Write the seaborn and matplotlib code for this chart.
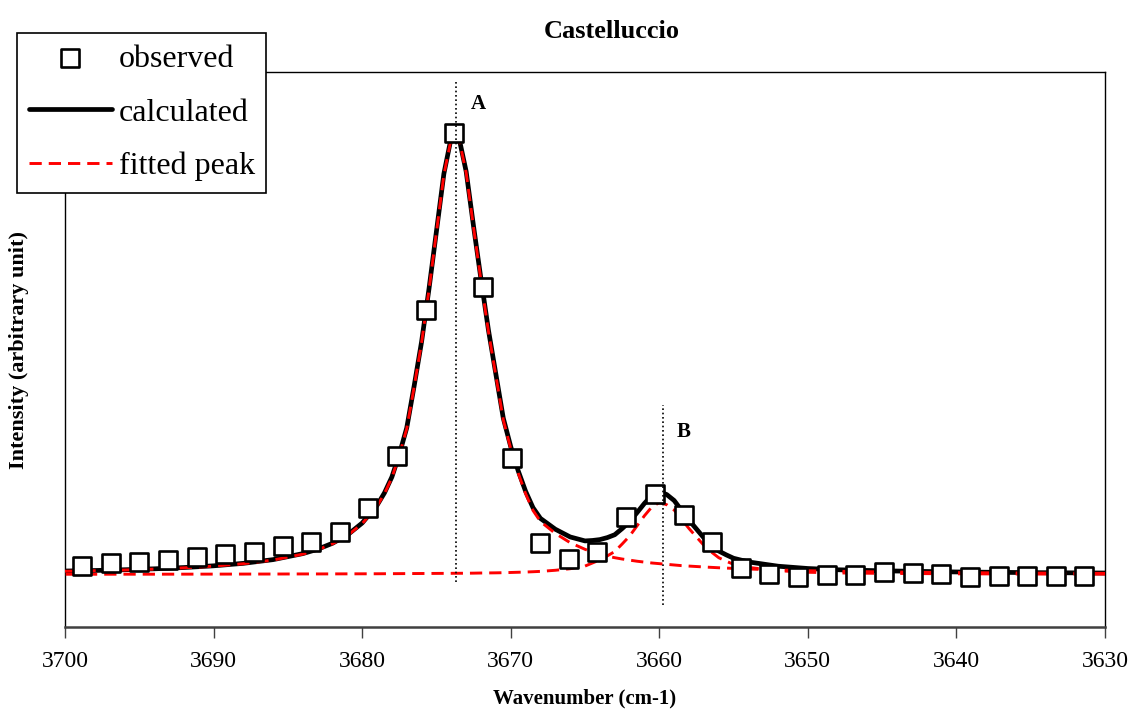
import numpy as np
import pandas as pd
import seaborn as sns
import matplotlib.pyplot as plt

# observed spectrum (wavenumber, intensity in arbitrary units)
obs_wn = [3698.86, 3696.93, 3695.00, 3693.08, 3691.15, 3689.22, 3687.29, 3685.36,
          3683.44, 3681.51, 3679.58, 3677.65, 3675.72, 3673.80, 3671.87, 3669.94,
          3668.01, 3666.08, 3664.16, 3662.23, 3660.30, 3658.37, 3656.44, 3654.52,
          3652.59, 3650.66, 3648.73, 3646.80, 3644.88, 3642.95, 3641.02, 3639.09,
          3637.16, 3635.24, 3633.31, 3631.38]
obs_int = [1.9, 2.6, 2.8, 3.3, 4.0, 4.6, 5.1, 6.5,
           7.4, 9.6, 15.1, 26.8, 59.9, 100.0, 65.1, 26.4,
           7.1, 3.5, 5.1, 13.0, 18.2, 13.5, 7.4, 1.5,
           0.1, -0.6, -0.1, -0.1, 0.6, 0.3, 0.1, -0.6,
           -0.3, -0.3, -0.3, -0.3]

# fitted curves
fit_wn = [3700, 3698, 3696, 3694, 3692, 3690, 3688, 3686, 3684, 3683, 3682, 3681,
          3680, 3679, 3678.5, 3678, 3677.5, 3677, 3676.5, 3676, 3675.5, 3675, 3674.5,
          3674, 3673.75, 3673.5, 3673, 3672.5, 3672, 3671.5, 3671, 3670.5, 3670,
          3669.5, 3669, 3668.5, 3668, 3667, 3666, 3665, 3664.5, 3664, 3663.5, 3663,
          3662.5, 3662, 3661.5, 3661, 3660.5, 3660, 3659.5, 3659, 3658.5, 3658,
          3657.5, 3657, 3656.5, 3656, 3655.5, 3655, 3654,
          3652, 3650, 3648, 3645, 3640, 3635, 3630]
peak_a = [0.73, 0.85, 1.01, 1.22, 1.50, 1.88, 2.43, 3.26, 4.60, 5.59, 6.93, 8.79,
          11.5, 15.5, 18.3, 21.9, 27.0, 33.0, 42.5, 52.5, 64.5, 77.5, 90.5,
          98.8, 99.7, 98.9, 91.0, 78.5, 66.5, 55.0, 45.0, 35.0, 28.5,
          23.0, 18.3, 14.5, 12.0, 9.3, 7.2, 5.7, 5.1, 4.6, 4.15, 3.8,
          3.5, 3.25, 3.0, 2.8, 2.6, 2.45, 2.3, 2.15, 2.0, 1.9,
          1.8, 1.7, 1.61, 1.52, 1.45, 1.37, 1.24,
          1.02, 0.85, 0.72, 0.58, 0.42, 0.32, 0.25]
peak_b = [0.05, 0.05, 0.06, 0.06, 0.07, 0.08, 0.09, 0.10, 0.12, 0.12, 0.13, 0.14,
          0.15, 0.16, 0.17, 0.18, 0.19, 0.20, 0.21, 0.22, 0.23, 0.24, 0.25,
          0.26, 0.27, 0.27, 0.28, 0.30, 0.33, 0.35, 0.37, 0.40, 0.45,
          0.50, 0.55, 0.62, 0.70, 0.95, 1.3, 1.9, 2.6, 3.3, 4.2, 5.2,
          6.9, 8.7, 11.0, 13.3, 15.3, 16.3, 15.8, 14.6, 12.5, 10.4,
          8.5, 6.6, 5.1, 3.8, 3.0, 2.3, 1.6,
          0.85, 0.5, 0.35, 0.25, 0.15, 0.10, 0.08]
calc = [0.78, 0.90, 1.07, 1.28, 1.57, 1.96, 2.52, 3.36, 4.72, 5.71, 7.06, 8.93,
        11.65, 15.66, 18.47, 22.08, 27.19, 33.2, 42.71, 52.72, 64.73, 77.74, 90.75,
        99.06, 99.97, 99.17, 91.28, 78.8, 66.83, 55.35, 45.37, 35.4, 28.95,
        23.5, 18.85, 15.12, 12.7, 10.25, 8.5, 7.6, 7.7, 7.9, 8.35, 9.0,
        10.4, 11.95, 14.0, 16.1, 17.9, 18.75, 18.1, 16.75, 14.5, 12.3,
        10.3, 8.3, 6.71, 5.32, 4.45, 3.67, 2.84,
        1.87, 1.35, 1.07, 0.83, 0.57, 0.42, 0.33]

# peak markers
peak_names = ["A", "B"]
peak_wn = [3673.7, 3659.75]
peak_span = [(-1.7, 111.5), (-6.9, 38.4)]
label_pos = [(3672.7, 106.5), (3658.85, 32.2)]

xticks = [3700, 3690, 3680, 3670, 3660, 3650, 3640, 3630]

sns.set_style("white")
plt.rcParams['font.family'] = ['Liberation Serif', 'DejaVu Serif']
plt.rcParams['text.color'] = 'black'
plt.rcParams['axes.labelcolor'] = 'black'
plt.rcParams['xtick.color'] = 'black'

obs_df = pd.DataFrame({"wn": obs_wn, "int": obs_int})
fit_df = pd.DataFrame({"wn": fit_wn, "a": peak_a, "b": peak_b, "calc": calc})

fig = plt.figure(figsize=(11.31, 7.13), dpi=100)
ax = fig.add_axes([0.0575, 0.1206, 0.9195, 0.7784])

sns.lineplot(data=fit_df, x="wn", y="calc", ax=ax, color="black", lw=3.4,
             label="calculated", zorder=2)
dash = (0, (4.2, 2.4))
sns.lineplot(data=fit_df, x="wn", y="a", ax=ax, color="#ff0000", lw=2.1,
             linestyle=dash, label="fitted peak", zorder=3)
sns.lineplot(data=fit_df, x="wn", y="b", ax=ax, color="#ff0000", lw=2.1,
             linestyle=dash, zorder=3)
sns.scatterplot(data=obs_df, x="wn", y="int", ax=ax, marker="s", s=150,
                color="white", edgecolor="black", linewidth=1.9,
                label="observed", zorder=4)

for name, wn, (y0, y1), (tx, ty) in zip(peak_names, peak_wn, peak_span, label_pos):
    ax.plot([wn, wn], [y0, y1], color="black", lw=1.2, linestyle=(0, (1, 1.6)), zorder=5)
    ax.text(tx, ty, name, fontsize=15, fontweight="bold", ha="left", va="center")

ax.set_xlim(3700, 3630)
ax.set_ylim(-11.9, 113.8)
ax.set_xticks(xticks)
ax.set_xticklabels([str(t) for t in xticks])
ax.set_yticks([])
ax.tick_params(axis="x", direction="out", length=8, width=1, pad=9,
               labelsize=17, color="#404040", labelcolor="black", bottom=True)

for side in ["left", "top", "right"]:
    ax.spines[side].set_color("black")
    ax.spines[side].set_linewidth(1.0)
ax.spines["bottom"].set_color("#404040")
ax.spines["bottom"].set_linewidth(1.8)

ax.set_xlabel("Wavenumber (cm-1)", fontsize=15, fontweight="bold")
ax.xaxis.set_label_coords(0.5, -0.11)
ax.set_ylabel("Intensity (arbitrary unit)", fontsize=16, fontweight="bold")
ax.yaxis.set_label_coords(-0.035, 0.5)
ax.set_title("Castelluccio", fontsize=19, fontweight="bold", x=0.526, y=1.062, pad=0)

handles, labels = ax.get_legend_handles_labels()
lookup = dict(zip(labels, handles))
order = ["observed", "calculated", "fitted peak"]
leg = ax.legend([lookup[k] for k in order], order, loc="upper left",
                bbox_to_anchor=(17 / 1131, 1 - 33 / 713), bbox_transform=fig.transFigure,
                borderaxespad=0, fontsize=23, frameon=True, fancybox=False,
                edgecolor="black", framealpha=1, handlelength=2.6, handletextpad=0.22,
                labelspacing=0.76, borderpad=0.36, scatterpoints=1)
leg.get_frame().set_linewidth(1.2)
leg.set_zorder(10)

fig.savefig("out.png", dpi=100)
